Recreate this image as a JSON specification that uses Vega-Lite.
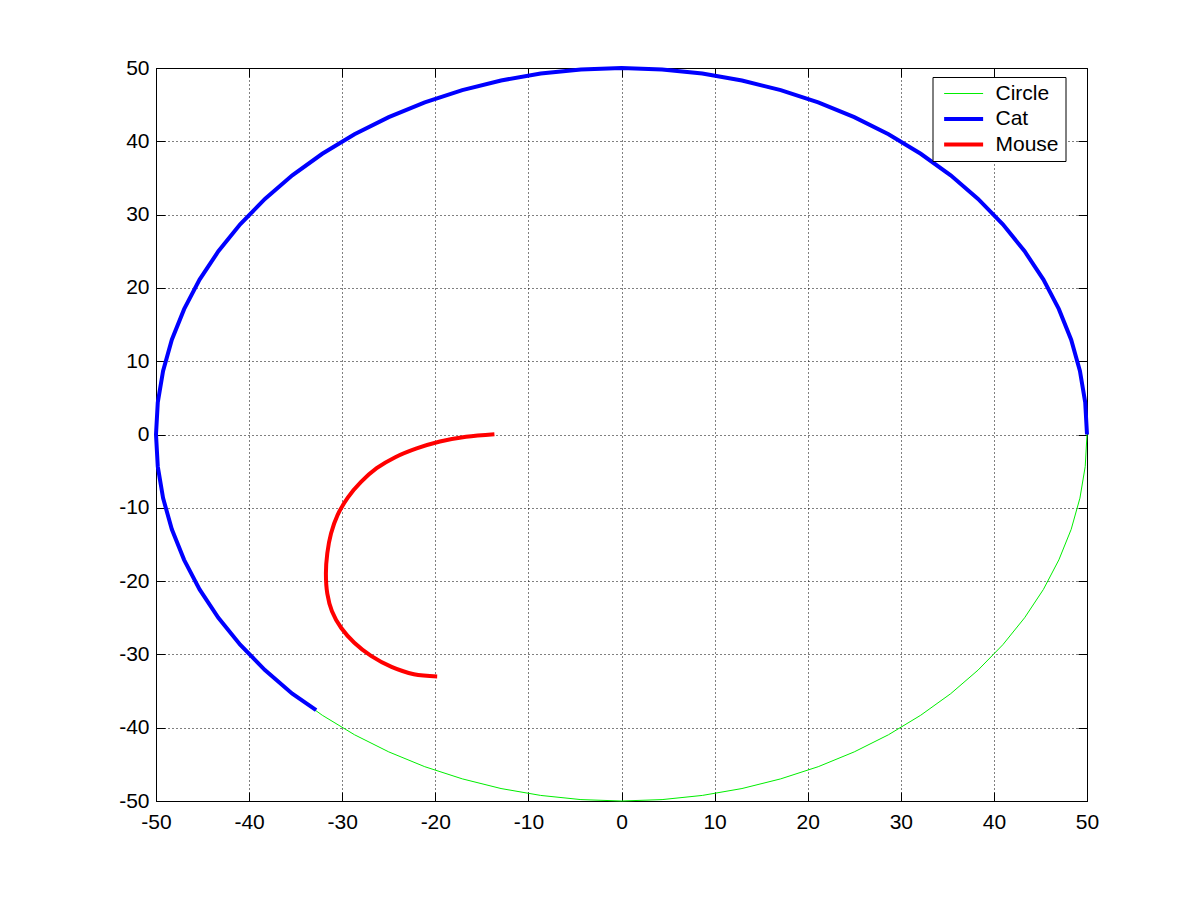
{
  "$schema": "https://vega.github.io/schema/vega-lite/v6.json",
  "width": 931,
  "height": 733,
  "autosize": {"type": "none"},
  "padding": {"left": 156, "top": 68, "right": 114, "bottom": 99},
  "background": "white",
  "config": {
    "view": {"stroke": "black", "strokeWidth": 1},
    "font": "Liberation Sans",
    "axis": {"labelFont": "Liberation Sans", "labelFontSize": 21, "labelColor": "black", "tickColor": "black", "tickSize": -9, "tickWidth": 1, "domain": false, "title": null, "labelFlush": false, "labelOverlap": false, "labelExpr": "'' + datum.value"},
    "legend": {
      "orient": "none", "legendX": 776.5, "legendY": 9,
      "symbolType": "M-1,0H7", "symbolSize": 95, "symbolStrokeWidth": 4,
      "labelFont": "Liberation Sans", "labelFontSize": 21, "labelColor": "black", "labelOffset": 36,
      "strokeColor": "black", "fillColor": "white", "padding": 6, "rowPadding": 3.5,
      "labelLimit": 300, "labelExpr": "datum.label + '\u00a0\u00a0'"
    }
  },
  "data": {"values": [
    {"series":"Circle","step":0,"x":50,"y":0},
    {"series":"Circle","step":1,"x":49.81,"y":4.36},
    {"series":"Circle","step":2,"x":49.24,"y":8.68},
    {"series":"Circle","step":3,"x":48.3,"y":12.94},
    {"series":"Circle","step":4,"x":46.98,"y":17.1},
    {"series":"Circle","step":5,"x":45.32,"y":21.13},
    {"series":"Circle","step":6,"x":43.3,"y":25},
    {"series":"Circle","step":7,"x":40.96,"y":28.68},
    {"series":"Circle","step":8,"x":38.3,"y":32.14},
    {"series":"Circle","step":9,"x":35.36,"y":35.36},
    {"series":"Circle","step":10,"x":32.14,"y":38.3},
    {"series":"Circle","step":11,"x":28.68,"y":40.96},
    {"series":"Circle","step":12,"x":25,"y":43.3},
    {"series":"Circle","step":13,"x":21.13,"y":45.32},
    {"series":"Circle","step":14,"x":17.1,"y":46.98},
    {"series":"Circle","step":15,"x":12.94,"y":48.3},
    {"series":"Circle","step":16,"x":8.68,"y":49.24},
    {"series":"Circle","step":17,"x":4.36,"y":49.81},
    {"series":"Circle","step":18,"x":0,"y":50},
    {"series":"Circle","step":19,"x":-4.36,"y":49.81},
    {"series":"Circle","step":20,"x":-8.68,"y":49.24},
    {"series":"Circle","step":21,"x":-12.94,"y":48.3},
    {"series":"Circle","step":22,"x":-17.1,"y":46.98},
    {"series":"Circle","step":23,"x":-21.13,"y":45.32},
    {"series":"Circle","step":24,"x":-25,"y":43.3},
    {"series":"Circle","step":25,"x":-28.68,"y":40.96},
    {"series":"Circle","step":26,"x":-32.14,"y":38.3},
    {"series":"Circle","step":27,"x":-35.36,"y":35.36},
    {"series":"Circle","step":28,"x":-38.3,"y":32.14},
    {"series":"Circle","step":29,"x":-40.96,"y":28.68},
    {"series":"Circle","step":30,"x":-43.3,"y":25},
    {"series":"Circle","step":31,"x":-45.32,"y":21.13},
    {"series":"Circle","step":32,"x":-46.98,"y":17.1},
    {"series":"Circle","step":33,"x":-48.3,"y":12.94},
    {"series":"Circle","step":34,"x":-49.24,"y":8.68},
    {"series":"Circle","step":35,"x":-49.81,"y":4.36},
    {"series":"Circle","step":36,"x":-50,"y":0},
    {"series":"Circle","step":37,"x":-49.81,"y":-4.36},
    {"series":"Circle","step":38,"x":-49.24,"y":-8.68},
    {"series":"Circle","step":39,"x":-48.3,"y":-12.94},
    {"series":"Circle","step":40,"x":-46.98,"y":-17.1},
    {"series":"Circle","step":41,"x":-45.32,"y":-21.13},
    {"series":"Circle","step":42,"x":-43.3,"y":-25},
    {"series":"Circle","step":43,"x":-40.96,"y":-28.68},
    {"series":"Circle","step":44,"x":-38.3,"y":-32.14},
    {"series":"Circle","step":45,"x":-35.36,"y":-35.36},
    {"series":"Circle","step":46,"x":-32.14,"y":-38.3},
    {"series":"Circle","step":47,"x":-28.68,"y":-40.96},
    {"series":"Circle","step":48,"x":-25,"y":-43.3},
    {"series":"Circle","step":49,"x":-21.13,"y":-45.32},
    {"series":"Circle","step":50,"x":-17.1,"y":-46.98},
    {"series":"Circle","step":51,"x":-12.94,"y":-48.3},
    {"series":"Circle","step":52,"x":-8.68,"y":-49.24},
    {"series":"Circle","step":53,"x":-4.36,"y":-49.81},
    {"series":"Circle","step":54,"x":0,"y":-50},
    {"series":"Circle","step":55,"x":4.36,"y":-49.81},
    {"series":"Circle","step":56,"x":8.68,"y":-49.24},
    {"series":"Circle","step":57,"x":12.94,"y":-48.3},
    {"series":"Circle","step":58,"x":17.1,"y":-46.98},
    {"series":"Circle","step":59,"x":21.13,"y":-45.32},
    {"series":"Circle","step":60,"x":25,"y":-43.3},
    {"series":"Circle","step":61,"x":28.68,"y":-40.96},
    {"series":"Circle","step":62,"x":32.14,"y":-38.3},
    {"series":"Circle","step":63,"x":35.36,"y":-35.36},
    {"series":"Circle","step":64,"x":38.3,"y":-32.14},
    {"series":"Circle","step":65,"x":40.96,"y":-28.68},
    {"series":"Circle","step":66,"x":43.3,"y":-25},
    {"series":"Circle","step":67,"x":45.32,"y":-21.13},
    {"series":"Circle","step":68,"x":46.98,"y":-17.1},
    {"series":"Circle","step":69,"x":48.3,"y":-12.94},
    {"series":"Circle","step":70,"x":49.24,"y":-8.68},
    {"series":"Circle","step":71,"x":49.81,"y":-4.36},
    {"series":"Circle","step":72,"x":50,"y":0},
    {"series":"Cat","step":0,"x":50,"y":0},
    {"series":"Cat","step":1,"x":49.81,"y":4.36},
    {"series":"Cat","step":2,"x":49.24,"y":8.68},
    {"series":"Cat","step":3,"x":48.3,"y":12.94},
    {"series":"Cat","step":4,"x":46.98,"y":17.1},
    {"series":"Cat","step":5,"x":45.32,"y":21.13},
    {"series":"Cat","step":6,"x":43.3,"y":25},
    {"series":"Cat","step":7,"x":40.96,"y":28.68},
    {"series":"Cat","step":8,"x":38.3,"y":32.14},
    {"series":"Cat","step":9,"x":35.36,"y":35.36},
    {"series":"Cat","step":10,"x":32.14,"y":38.3},
    {"series":"Cat","step":11,"x":28.68,"y":40.96},
    {"series":"Cat","step":12,"x":25,"y":43.3},
    {"series":"Cat","step":13,"x":21.13,"y":45.32},
    {"series":"Cat","step":14,"x":17.1,"y":46.98},
    {"series":"Cat","step":15,"x":12.94,"y":48.3},
    {"series":"Cat","step":16,"x":8.68,"y":49.24},
    {"series":"Cat","step":17,"x":4.36,"y":49.81},
    {"series":"Cat","step":18,"x":0,"y":50},
    {"series":"Cat","step":19,"x":-4.36,"y":49.81},
    {"series":"Cat","step":20,"x":-8.68,"y":49.24},
    {"series":"Cat","step":21,"x":-12.94,"y":48.3},
    {"series":"Cat","step":22,"x":-17.1,"y":46.98},
    {"series":"Cat","step":23,"x":-21.13,"y":45.32},
    {"series":"Cat","step":24,"x":-25,"y":43.3},
    {"series":"Cat","step":25,"x":-28.68,"y":40.96},
    {"series":"Cat","step":26,"x":-32.14,"y":38.3},
    {"series":"Cat","step":27,"x":-35.36,"y":35.36},
    {"series":"Cat","step":28,"x":-38.3,"y":32.14},
    {"series":"Cat","step":29,"x":-40.96,"y":28.68},
    {"series":"Cat","step":30,"x":-43.3,"y":25},
    {"series":"Cat","step":31,"x":-45.32,"y":21.13},
    {"series":"Cat","step":32,"x":-46.98,"y":17.1},
    {"series":"Cat","step":33,"x":-48.3,"y":12.94},
    {"series":"Cat","step":34,"x":-49.24,"y":8.68},
    {"series":"Cat","step":35,"x":-49.81,"y":4.36},
    {"series":"Cat","step":36,"x":-50,"y":0},
    {"series":"Cat","step":37,"x":-49.81,"y":-4.36},
    {"series":"Cat","step":38,"x":-49.24,"y":-8.68},
    {"series":"Cat","step":39,"x":-48.3,"y":-12.94},
    {"series":"Cat","step":40,"x":-46.98,"y":-17.1},
    {"series":"Cat","step":41,"x":-45.32,"y":-21.13},
    {"series":"Cat","step":42,"x":-43.3,"y":-25},
    {"series":"Cat","step":43,"x":-40.96,"y":-28.68},
    {"series":"Cat","step":44,"x":-38.3,"y":-32.14},
    {"series":"Cat","step":45,"x":-35.36,"y":-35.36},
    {"series":"Cat","step":46,"x":-32.8,"y":-37.6},
    {"series":"Mouse","step":0,"x":-13.65,"y":0.05},
    {"series":"Mouse","step":1,"x":-16.7,"y":-0.3},
    {"series":"Mouse","step":2,"x":-19.5,"y":-0.95},
    {"series":"Mouse","step":3,"x":-22.0,"y":-1.9},
    {"series":"Mouse","step":4,"x":-24.3,"y":-3.1},
    {"series":"Mouse","step":5,"x":-26.3,"y":-4.6},
    {"series":"Mouse","step":6,"x":-28.0,"y":-6.5},
    {"series":"Mouse","step":7,"x":-29.4,"y":-8.6},
    {"series":"Mouse","step":8,"x":-30.5,"y":-11.0},
    {"series":"Mouse","step":9,"x":-31.2,"y":-13.5},
    {"series":"Mouse","step":10,"x":-31.6,"y":-16.2},
    {"series":"Mouse","step":11,"x":-31.75,"y":-19.0},
    {"series":"Mouse","step":12,"x":-31.6,"y":-21.7},
    {"series":"Mouse","step":13,"x":-31.1,"y":-24.1},
    {"series":"Mouse","step":14,"x":-30.1,"y":-26.4},
    {"series":"Mouse","step":15,"x":-28.7,"y":-28.4},
    {"series":"Mouse","step":16,"x":-26.9,"y":-30.2},
    {"series":"Mouse","step":17,"x":-24.7,"y":-31.7},
    {"series":"Mouse","step":18,"x":-22.3,"y":-32.7},
    {"series":"Mouse","step":19,"x":-19.8,"y":-33.0}
  ]},
  "resolve": {"axis": {"x": "independent", "y": "independent"}},
  "layer": [
    {
      "transform": [{"filter": "datum.series === 'Circle'"}],
      "mark": {"type": "line", "clip": false, "strokeWidth": 1},
      "encoding": {
        "x": {"field": "x", "type": "quantitative", "scale": {"domain": [-50, 50], "nice": false, "zero": false},
              "axis": {"orient": "bottom", "values": [-50,-40,-30,-20,-10,0,10,20,30,40,50], "grid": true, "gridColor": "black", "gridDash": [1,3], "gridOpacity": 1, "labelPadding": 19}},
        "y": {"field": "y", "type": "quantitative", "scale": {"domain": [-50, 50], "nice": false, "zero": false},
              "axis": {"orient": "left", "values": [-50,-40,-30,-20,-10,0,10,20,30,40,50], "grid": true, "gridColor": "black", "gridDash": [1,3], "gridOpacity": 1, "labelPadding": 16}},
        "order": {"field": "step", "type": "quantitative"},
        "color": {"field": "series", "type": "nominal", "scale": {"domain": ["Circle","Cat","Mouse"], "range": ["#00ee00","#0000ff","#ff0000"]},
                  "legend": {"title": null, "encode": {"symbols": {"update": {"strokeWidth": {"signal": "(datum.value === 'Circle' ? 1 : 4)"}}}}}}
      }
    },
    {
      "transform": [{"filter": "datum.series === 'Cat'"}],
      "mark": {"type": "line", "clip": false, "strokeWidth": 4},
      "encoding": {
        "x": {"field": "x", "type": "quantitative", "scale": {"domain": [-50, 50], "nice": false, "zero": false},
              "axis": {"orient": "top", "values": [-50,-40,-30,-20,-10,0,10,20,30,40,50], "labels": false, "grid": false}},
        "y": {"field": "y", "type": "quantitative", "scale": {"domain": [-50, 50], "nice": false, "zero": false},
              "axis": {"orient": "right", "values": [-50,-40,-30,-20,-10,0,10,20,30,40,50], "labels": false, "grid": false}},
        "order": {"field": "step", "type": "quantitative"},
        "color": {"field": "series", "type": "nominal"}
      }
    },
    {
      "transform": [{"filter": "datum.series === 'Mouse'"}],
      "mark": {"type": "line", "clip": false, "strokeWidth": 4, "interpolate": "catmull-rom"},
      "encoding": {
        "x": {"field": "x", "type": "quantitative", "scale": {"domain": [-50, 50], "nice": false, "zero": false}, "axis": null},
        "y": {"field": "y", "type": "quantitative", "scale": {"domain": [-50, 50], "nice": false, "zero": false}, "axis": null},
        "order": {"field": "step", "type": "quantitative"},
        "color": {"field": "series", "type": "nominal"}
      }
    }
  ]
}
